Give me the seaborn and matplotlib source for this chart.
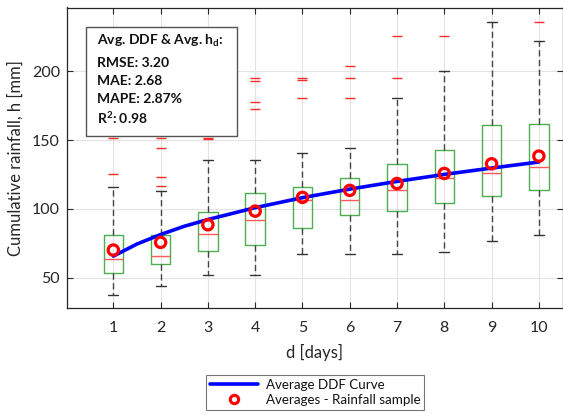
import matplotlib
matplotlib.use("Agg")
import matplotlib.pyplot as plt
from matplotlib.lines import Line2D
from matplotlib.patches import Rectangle
import seaborn as sns
import pandas as pd

# Duration in days
days = [1, 2, 3, 4, 5, 6, 7, 8, 9, 10]

# Box statistics of cumulative rainfall per duration [mm]
whisker_low = [37.3, 43.9, 51.9, 51.9, 66.9, 66.9, 66.9, 68.3, 76.8, 80.9]
q1 = [53.3, 59.6, 69.3, 73.9, 86.1, 95.2, 98.5, 104.4, 109.0, 113.4]
median = [63.2, 65.6, 81.8, 92.0, 106.1, 106.1, 113.8, 122.1, 126.2, 130.5]
q3 = [80.9, 80.9, 97.6, 111.4, 116.2, 122.3, 132.7, 142.6, 160.6, 161.3]
whisker_high = [116.0, 112.7, 135.4, 135.4, 140.5, 143.9, 180.7, 200.0, 236.1, 221.8]
outliers = [
    [125.0, 151.3],
    [116.9, 123.0, 144.3, 151.3],
    [150.8, 151.6],
    [172.2, 177.3, 193.2, 194.7],
    [180.6, 193.4, 195.2],
    [180.6, 195.4, 203.6],
    [195.4, 225.4],
    [225.6],
    [],
    [236.1],
]

# Sample averages per duration [mm]
sample_mean = [70.0, 75.6, 88.4, 98.3, 108.3, 113.4, 118.4, 125.7, 132.7, 138.3]

# Average DDF curve [mm]
curve_d = [1, 1.5, 2, 2.5, 3, 4, 5, 6, 7, 8, 9, 10]
curve_h = [65.6, 74.4, 81.3, 87.3, 92.2, 100.8, 108.1, 114.3, 119.9, 125.0, 129.6, 134.0]

# Goodness-of-fit summary
stats_title = r"Avg. DDF & Avg. h$_\mathbf{d}$:"
stats_lines = ["RMSE: 3.20", "MAE: 2.68", "MAPE: 2.87%", r"R$^\mathbf{2}$: 0.98"]

sns.set_theme(style="whitegrid")
plt.rcParams["font.family"] = ["Lato", "DejaVu Sans"]
plt.rcParams["mathtext.fontset"] = "custom"
plt.rcParams["mathtext.rm"] = "Lato"
plt.rcParams["mathtext.bf"] = "Lato:bold"
plt.rcParams["mathtext.it"] = "Lato:italic"

dark = "#262626"
fig = plt.figure(figsize=(5.63, 4.19), dpi=100)
W, H = 563, 419
ax_l, ax_r, ax_t, ax_b = 67, 562.5, 7.5, 308
ax = fig.add_axes([ax_l / W, 1 - ax_b / H, (ax_r - ax_l) / W, (ax_b - ax_t) / H])
ax.set_facecolor("white")

box_stats = [
    dict(whislo=wl, q1=a, med=m, q3=b, whishi=wh, fliers=fl)
    for wl, a, m, b, wh, fl in zip(whisker_low, q1, median, q3, whisker_high, outliers)
]
ax.bxp(
    box_stats,
    positions=days,
    widths=0.41,
    showfliers=True,
    manage_ticks=False,
    boxprops=dict(color="#4caf50", linewidth=1.0),
    medianprops=dict(color="#ff5a5a", linewidth=1.0),
    whiskerprops=dict(color="#444444", linewidth=1.0, linestyle=(0, (4.5, 2.5))),
    capprops=dict(color="#333333", linewidth=1.0),
    capwidths=0.21,
    flierprops=dict(marker="_", markeredgecolor="#ff2a2a", markersize=7.5,
                    markeredgewidth=1.0, linestyle="none"),
)

curve = pd.DataFrame({"d": curve_d, "h": curve_h})
means = pd.DataFrame({"d": days, "h": sample_mean})
sns.lineplot(data=curve, x="d", y="h", color="#0000ff", linewidth=2.6, ax=ax,
             zorder=4, sort=True)
sns.scatterplot(data=means, x="d", y="h", marker="o", s=55, facecolor="none",
                edgecolor="#ff0000", linewidth=2.3, ax=ax, zorder=5)

ax.set_xlim(0.02, 10.5)
ax.set_ylim(27.9, 246.3)
ax.set_xticks(days)
ax.set_yticks([50, 100, 150, 200])
ax.grid(True, color="#e3e3e3", linewidth=0.8)
ax.set_axisbelow(True)
for s in ax.spines.values():
    s.set_color(dark)
    s.set_linewidth(0.9)
    s.set_visible(True)
ax.tick_params(axis="both", which="both", direction="in", length=4, width=0.8,
               color=dark, labelcolor=dark, labelsize=11.5,
               top=True, right=True, bottom=True, left=True)
ax.tick_params(axis="x", pad=9)
ax.tick_params(axis="y", pad=5)
ax.set_xlabel("d [days]", fontsize=12, color=dark, labelpad=7)
ax.set_ylabel("Cumulative rainfall, h [mm]", fontsize=12, color=dark, labelpad=6)

# Goodness-of-fit box
def ax_xy(px, py):
    return (px - ax_l) / (ax_r - ax_l), (ax_b - py) / (ax_b - ax_t)

x0, y0 = ax_xy(86, 136)
x1, y1 = ax_xy(237, 27)
ax.add_patch(Rectangle((x0, y0), x1 - x0, y1 - y0, transform=ax.transAxes,
                       facecolor="white", edgecolor="#555555", linewidth=1.0,
                       zorder=10))
tx, ty = ax_xy(97, 41)
ax.text(tx, ty, stats_title, transform=ax.transAxes, fontsize=10, fontweight="bold",
        color="#111111", va="center", ha="left", zorder=11)
for py, line in zip([63, 81, 99, 118], stats_lines):
    tx, ty = ax_xy(97, py)
    ax.text(tx, ty, line, transform=ax.transAxes, fontsize=10, fontweight="bold",
            color="#111111", va="center", ha="left", zorder=11)

handles = [
    Line2D([], [], color="#0000ff", linewidth=2.6),
    Line2D([], [], color="#ff0000", marker="o", markersize=6, markerfacecolor="none",
           markeredgewidth=2.2, linestyle="none"),
]
leg = fig.legend(handles, ["Average DDF Curve", "Averages - Rainfall sample"],
                 loc="center", bbox_to_anchor=(315 / W, 1 - 392.5 / H),
                 fontsize=9.6, frameon=True, fancybox=False, framealpha=1,
                 edgecolor="#777777", handlelength=3.6, handletextpad=0.6,
                 borderpad=0.3, labelspacing=0.2)
leg.get_frame().set_linewidth(0.8)
for t in leg.get_texts():
    t.set_color("#111111")

fig.savefig("out.png", dpi=100, facecolor="white")
